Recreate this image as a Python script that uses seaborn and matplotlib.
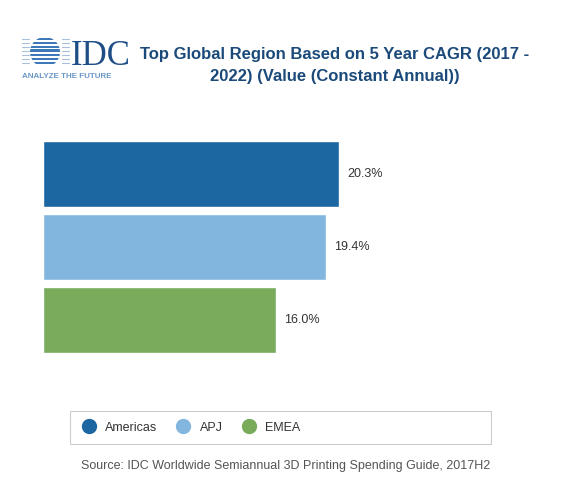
import matplotlib
matplotlib.use("Agg")
import matplotlib.pyplot as plt
import seaborn as sns
import pandas as pd
from matplotlib.lines import Line2D
from matplotlib.patches import Rectangle, Circle

regions = ["Americas", "APJ", "EMEA"]
cagr = [20.3, 19.4, 16.0]
colors = ["#1C66A1", "#83B6DF", "#79AB5B"]
title = "Top Global Region Based on 5 Year CAGR (2017 -\n2022) (Value (Constant Annual))"
source = "Source: IDC Worldwide Semiannual 3D Printing Spending Guide, 2017H2"

sns.set_theme(style="white")
plt.rcParams["font.family"] = ["Liberation Sans", "DejaVu Sans"]

W, H = 584, 494
fig = plt.figure(figsize=(W / 100, H / 100), dpi=100)
fig.patch.set_facecolor("white")

def fx(px):
    return px / W

def fy(py):
    return 1 - py / H

df = pd.DataFrame({"region": regions, "cagr": cagr})
ax = fig.add_axes([fx(43), fy(356.5), fx(437), 219 / H])
sns.barplot(data=df, x="cagr", y="region", hue="region", palette=colors,
            orient="h", width=0.904, legend=False, ax=ax, saturation=1)
ax.set_xlim(0, 30)
ax.set_ylim(2.5, -0.5)
ax.axis("off")
for i, v in enumerate(cagr):
    ax.annotate(f"{v:.1f}%", xy=(v, i), xytext=(6, 0), textcoords="offset points",
                va="center", ha="left", fontsize=9, color="#333333")

# Title
fig.text(fx(335), fy(65.5), title, ha="center", va="center", fontsize=12,
         fontweight="bold", color="#1B4A7A", linespacing=1.55)

# Logo
lax = fig.add_axes([fx(18), fy(70), fx(54), 36 / H])
lax.set_xlim(18, 72)
lax.set_ylim(70, 34)
lax.axis("off")
circ = Circle((45, 52), 15, transform=lax.transData, facecolor="none", edgecolor="none")
lax.add_patch(circ)
stripe_y = [39, 43, 47, 51, 55, 59, 63]
stripe_h = [1.8, 2.4, 2.8, 3.0, 2.8, 2.4, 1.8]
for yy, hh in zip(stripe_y, stripe_h):
    r = Rectangle((30, yy - hh / 2), 30, hh, facecolor="#3D78B8", edgecolor="none")
    lax.add_patch(r)
    r.set_clip_path(circ)
    for xs in (22, 62):
        lax.add_line(Line2D([xs, xs + 7], [yy, yy], color="#A8C0DC", lw=0.8))
fig.text(fx(71), fy(65), "IDC", ha="left", va="baseline", fontsize=25,
         family="Liberation Serif", color="#1F4E86")
fig.text(fx(22), fy(76), "ANALYZE THE FUTURE", ha="left", va="center",
         fontsize=5.8, color="#6A96C8", fontweight="bold")

# Legend box
fig.patches.append(Rectangle((fx(70), fy(444)), fx(421), 33 / H, transform=fig.transFigure,
                             facecolor="white", edgecolor="#CCCCCC", lw=0.8))
handles = [Line2D([], [], marker="o", linestyle="none", markersize=10,
                  markerfacecolor=c, markeredgecolor=c) for c in colors]
fig.legend(handles, regions, loc="center left", bbox_to_anchor=(fx(71), fy(427.5)),
           ncol=3, frameon=False, fontsize=9, handletextpad=0.8, columnspacing=1.6,
           labelcolor="#333333", handlelength=1.0)

fig.text(fx(81), fy(466), source, ha="left", va="center", fontsize=9, color="#555555")

fig.savefig("out.png", dpi=100, facecolor="white")
